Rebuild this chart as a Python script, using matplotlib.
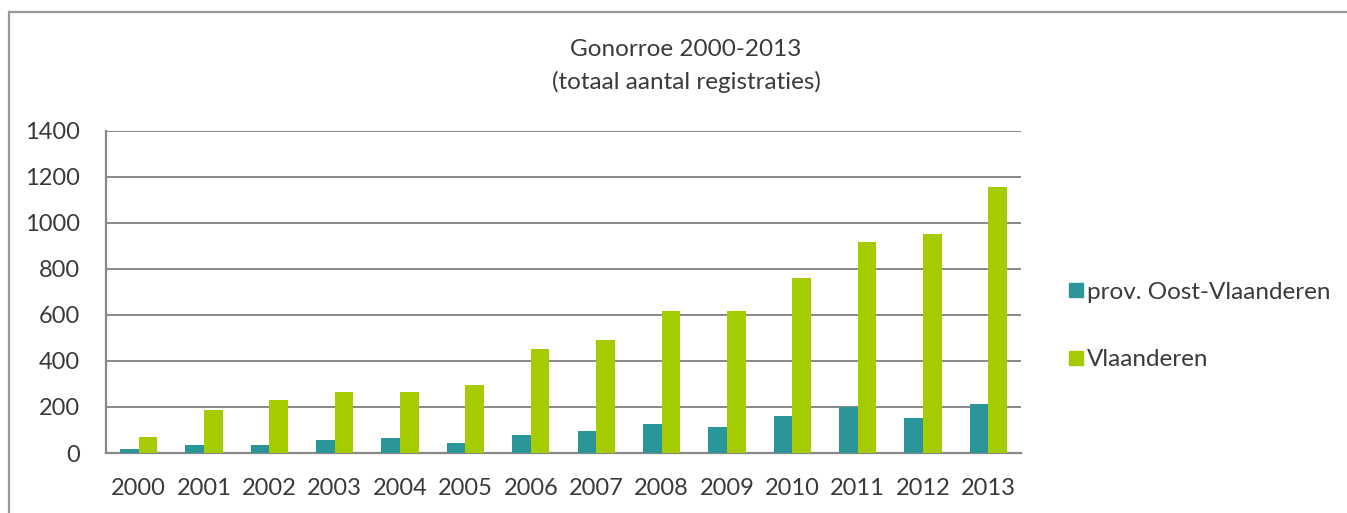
import matplotlib
matplotlib.use("Agg")
import matplotlib.pyplot as plt
from matplotlib.lines import Line2D
import numpy as np

years = ["2000", "2001", "2002", "2003", "2004", "2005", "2006",
         "2007", "2008", "2009", "2010", "2011", "2012", "2013"]
oost_vlaanderen = [19, 36, 36, 58, 64, 42, 80, 95, 125, 111, 160, 200, 153, 214]
vlaanderen = [68, 186, 229, 264, 263, 294, 452, 490, 616, 616, 761, 917, 950, 1153]
series_names = ["prov. Oost-Vlaanderen", "Vlaanderen"]
title_text = "Gonorroe 2000-2013\n(totaal aantal registraties)"

plt.rcParams['font.family'] = ['Lato', 'DejaVu Sans']
text_color = "#3a3a3a"
teal = "#2A9699"
green = "#A4CC00"
grid_color = "#888888"

W, H = 1347, 513
fig = plt.figure(figsize=(W / 100, H / 100), dpi=100)
ax = fig.add_axes([106 / W, 1 - 453 / H, (1021 - 106) / W, (453 - 130.5) / H])

x = np.arange(len(years))
bw = 0.285
ax.bar(x - bw / 2, oost_vlaanderen, width=bw, color=teal, label=series_names[0], zorder=3)
ax.bar(x + bw / 2, vlaanderen, width=bw, color=green, label=series_names[1], zorder=3)

ax.set_xlim(-0.5, len(years) - 0.5)
ax.set_ylim(0, 1400)
ax.set_yticks(np.arange(0, 1401, 200))
ax.set_xticks(x)
ax.set_xticklabels(years)
ax.tick_params(axis='both', length=0, labelsize=17, colors=text_color)
ax.tick_params(axis='y', pad=19)
ax.tick_params(axis='x', pad=18)
ax.yaxis.grid(True, color=grid_color, linewidth=1.4, zorder=0)
ax.set_axisbelow(True)
for s in ["top", "right"]:
    ax.spines[s].set_visible(False)
for s in ["left", "bottom"]:
    ax.spines[s].set_color(grid_color)
    ax.spines[s].set_linewidth(1.6)

fig.text(686 / W, 1 - 66 / H, title_text, ha="center", va="center",
         fontsize=17.5, color=text_color, linespacing=1.6)

handles = [Line2D([], [], marker="s", linestyle="none", markersize=10,
                  markerfacecolor=teal, markeredgecolor=teal),
           Line2D([], [], marker="s", linestyle="none", markersize=10,
                  markerfacecolor=green, markeredgecolor=green)]
fig.legend(handles, series_names, loc="center left",
           bbox_to_anchor=(1058 / W, 1 - 326 / H), frameon=False,
           fontsize=17.5, labelcolor=text_color, handlelength=0.5,
           handletextpad=0.2, labelspacing=1.9, borderpad=0)

# outer chart frame (top and left edges)
fig.add_artist(Line2D([9 / W, 1], [1 - 12 / H, 1 - 12 / H], color="#999999",
                      linewidth=1.6, transform=fig.transFigure))
fig.add_artist(Line2D([9 / W, 9 / W], [0, 1 - 12 / H], color="#999999",
                      linewidth=1.6, transform=fig.transFigure))

fig.savefig("out.png", dpi=100, facecolor="white")
